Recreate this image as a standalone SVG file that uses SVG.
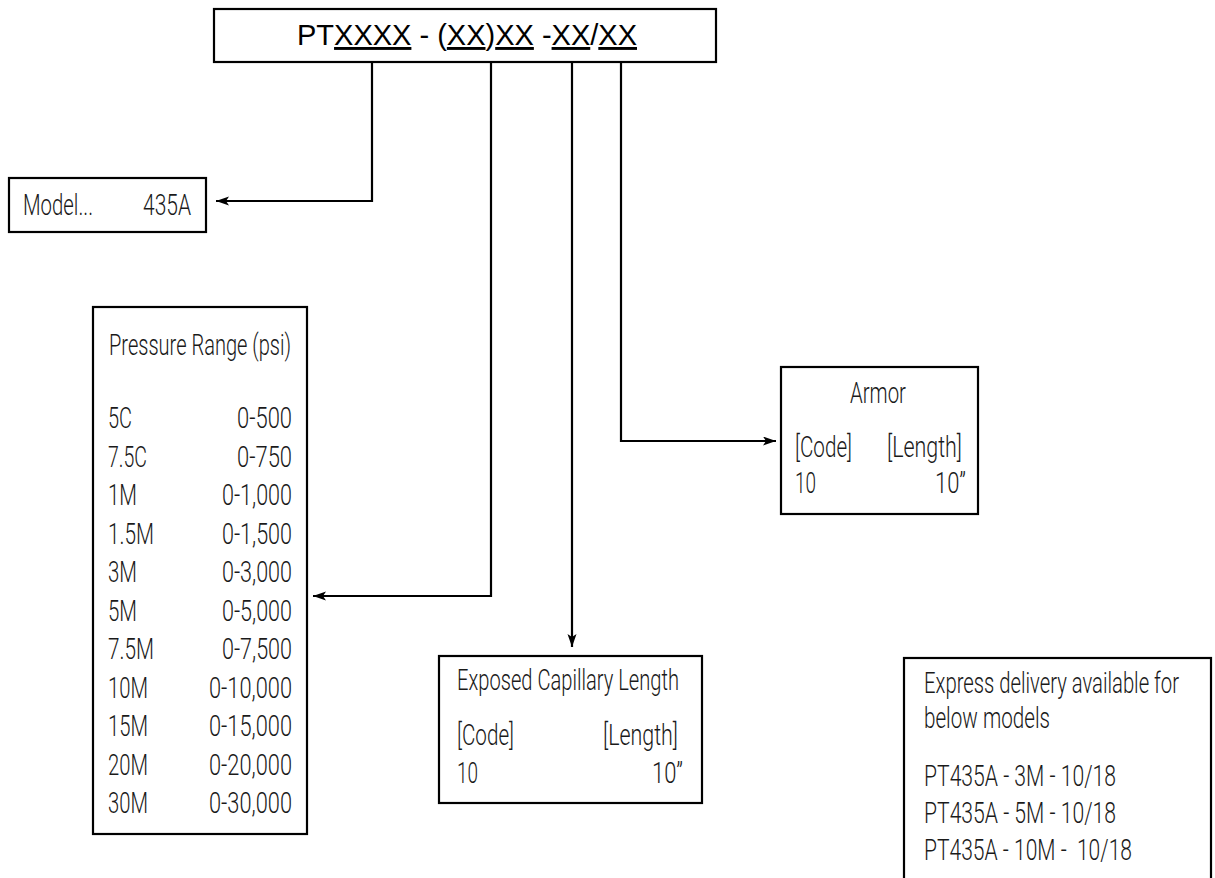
<svg xmlns="http://www.w3.org/2000/svg" width="1215" height="878" viewBox="0 0 1215 878">
<style>
.box{fill:#fff;stroke:#000;stroke-width:2.2}
.t{font-family:Roboto,"Liberation Sans",sans-serif;font-weight:300;font-size:30px;fill:#1a1a1a}
.title{font-family:"Liberation Sans",Arial,sans-serif;font-size:29px;fill:#000}
.u{text-decoration:underline}
.e{text-anchor:end}
.wire{fill:none;stroke:#000;stroke-width:2.2}
</style>
<defs>
<marker id="arr" markerUnits="userSpaceOnUse" markerWidth="14" markerHeight="10" refX="13" refY="4.5" orient="auto">
<path d="M0,0 L13,4.5 L0,9 L3,4.5 Z" fill="#000"/>
</marker>
</defs>
<g id="code">
<rect class="box" x="214" y="9" width="502" height="53"/>
<text class="title" x="297" y="45" textLength="340" lengthAdjust="spacingAndGlyphs">PT<tspan class="u">XXXX</tspan> - (<tspan class="u">XX</tspan>)<tspan class="u">XX</tspan> -<tspan class="u">XX</tspan>/<tspan class="u">XX</tspan></text>
</g>
<g id="connectors">
<path class="wire" d="M372,62 V201 H216" marker-end="url(#arr)"/>
<path class="wire" d="M491,62 V596 H313" marker-end="url(#arr)"/>
<path class="wire" d="M572,62 V647" marker-end="url(#arr)"/>
<path class="wire" d="M621,62 V441 H776" marker-end="url(#arr)"/>
</g>
<g id="model">
<rect class="box" x="9" y="178" width="197" height="54"/>
<text class="t" x="23" y="215" textLength="70" lengthAdjust="spacingAndGlyphs">Model...</text>
<text class="t" x="143" y="215" textLength="48" lengthAdjust="spacingAndGlyphs">435A</text>
</g>
<g id="pressure">
<rect class="box" x="93" y="307" width="214" height="527"/>
<text class="t" x="109" y="355" textLength="182" lengthAdjust="spacingAndGlyphs">Pressure Range (psi)</text>
<text class="t" x="108" y="428" textLength="24" lengthAdjust="spacingAndGlyphs">5C</text>
<text class="t e" x="292" y="428" textLength="55" lengthAdjust="spacingAndGlyphs">0-500</text>
<text class="t" x="108" y="466.5" textLength="39" lengthAdjust="spacingAndGlyphs">7.5C</text>
<text class="t e" x="292" y="466.5" textLength="55" lengthAdjust="spacingAndGlyphs">0-750</text>
<text class="t" x="108" y="505" textLength="29" lengthAdjust="spacingAndGlyphs">1M</text>
<text class="t e" x="292" y="505" textLength="70" lengthAdjust="spacingAndGlyphs">0-1,000</text>
<text class="t" x="108" y="543.5" textLength="46" lengthAdjust="spacingAndGlyphs">1.5M</text>
<text class="t e" x="292" y="543.5" textLength="70" lengthAdjust="spacingAndGlyphs">0-1,500</text>
<text class="t" x="108" y="582" textLength="29" lengthAdjust="spacingAndGlyphs">3M</text>
<text class="t e" x="292" y="582" textLength="70" lengthAdjust="spacingAndGlyphs">0-3,000</text>
<text class="t" x="108" y="620.5" textLength="29" lengthAdjust="spacingAndGlyphs">5M</text>
<text class="t e" x="292" y="620.5" textLength="70" lengthAdjust="spacingAndGlyphs">0-5,000</text>
<text class="t" x="108" y="659" textLength="46" lengthAdjust="spacingAndGlyphs">7.5M</text>
<text class="t e" x="292" y="659" textLength="70" lengthAdjust="spacingAndGlyphs">0-7,500</text>
<text class="t" x="108" y="697.5" textLength="40" lengthAdjust="spacingAndGlyphs">10M</text>
<text class="t e" x="292" y="697.5" textLength="83" lengthAdjust="spacingAndGlyphs">0-10,000</text>
<text class="t" x="108" y="736" textLength="40" lengthAdjust="spacingAndGlyphs">15M</text>
<text class="t e" x="292" y="736" textLength="83" lengthAdjust="spacingAndGlyphs">0-15,000</text>
<text class="t" x="108" y="774.5" textLength="40" lengthAdjust="spacingAndGlyphs">20M</text>
<text class="t e" x="292" y="774.5" textLength="83" lengthAdjust="spacingAndGlyphs">0-20,000</text>
<text class="t" x="108" y="813" textLength="40" lengthAdjust="spacingAndGlyphs">30M</text>
<text class="t e" x="292" y="813" textLength="83" lengthAdjust="spacingAndGlyphs">0-30,000</text>
</g>
<g id="exposed">
<rect class="box" x="439" y="656" width="263" height="147"/>
<text class="t" x="457" y="690" textLength="222" lengthAdjust="spacingAndGlyphs">Exposed Capillary Length</text>
<text class="t" x="457" y="745" textLength="57" lengthAdjust="spacingAndGlyphs">[Code]</text>
<text class="t" x="603" y="745" textLength="75" lengthAdjust="spacingAndGlyphs">[Length]</text>
<text class="t" x="457" y="783" textLength="21" lengthAdjust="spacingAndGlyphs">10</text>
<text class="t" x="652" y="783" textLength="31" lengthAdjust="spacingAndGlyphs">10”</text>
</g>
<g id="armor">
<rect class="box" x="781" y="367" width="197" height="147"/>
<text class="t" x="850" y="403" textLength="56" lengthAdjust="spacingAndGlyphs">Armor</text>
<text class="t" x="795" y="457" textLength="57" lengthAdjust="spacingAndGlyphs">[Code]</text>
<text class="t" x="887" y="457" textLength="75" lengthAdjust="spacingAndGlyphs">[Length]</text>
<text class="t" x="795" y="493" textLength="21" lengthAdjust="spacingAndGlyphs">10</text>
<text class="t" x="935" y="493" textLength="31" lengthAdjust="spacingAndGlyphs">10”</text>
</g>
<g id="express">
<rect class="box" x="904" y="658" width="307" height="240"/>
<text class="t" x="924" y="693" textLength="255" lengthAdjust="spacingAndGlyphs">Express delivery available for</text>
<text class="t" x="924" y="728" textLength="126" lengthAdjust="spacingAndGlyphs">below models</text>
<text class="t" x="924" y="786" textLength="192" lengthAdjust="spacingAndGlyphs">PT435A - 3M - 10/18</text>
<text class="t" x="924" y="823" textLength="192" lengthAdjust="spacingAndGlyphs">PT435A - 5M - 10/18</text>
<text class="t" x="924" y="860" textLength="208" lengthAdjust="spacingAndGlyphs" xml:space="preserve">PT435A - 10M -  10/18</text>
</g>
</svg>
